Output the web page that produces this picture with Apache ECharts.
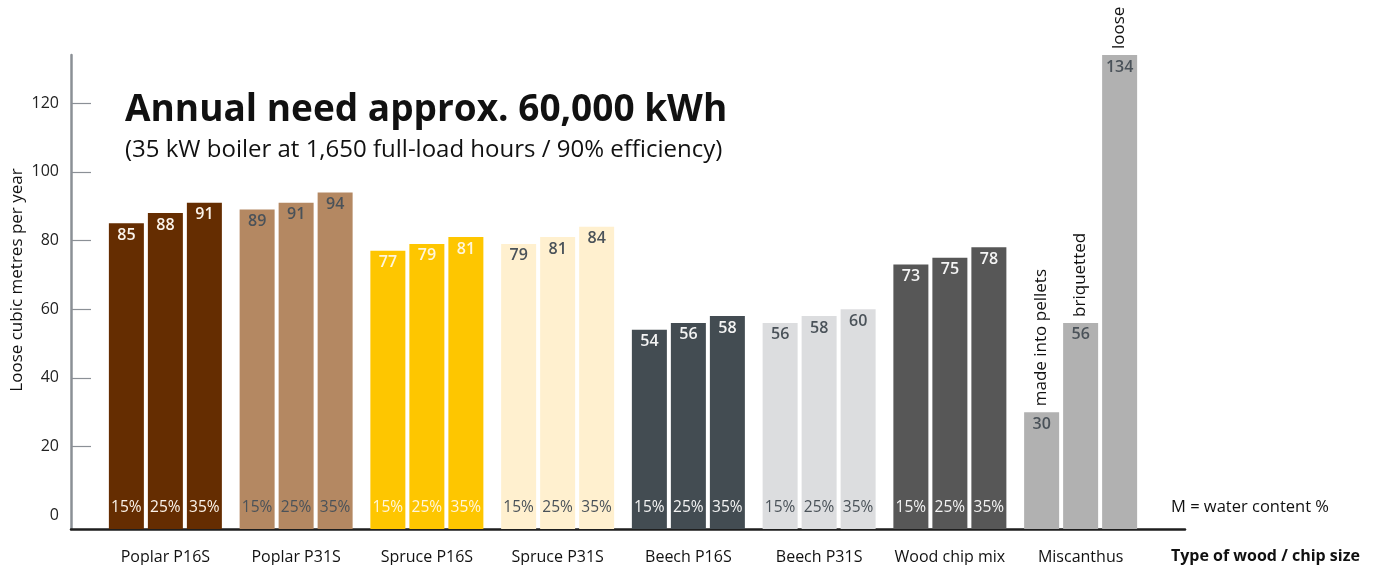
<!DOCTYPE html>
<html>
<head>
<meta charset="utf-8">
<script src="https://cdn.jsdelivr.net/npm/echarts@6/dist/echarts.min.js"></script>
<style>
html,body{margin:0;padding:0;background:#fff;}
#chart{width:1375px;height:565px;}
</style>
</head>
<body>
<div id="chart"></div>
<script>
const categories = ['Poplar P16S','Poplar P31S','Spruce P16S','Spruce P31S','Beech P16S','Beech P31S','Wood chip mix','Miscanthus'];
const waterContent = ['15%','25%','35%'];
const values15 = [85, 89, 77, 79, 54, 56, 73, 30];
const values25 = [88, 91, 79, 81, 56, 58, 75, 56];
const values35 = [91, 94, 81, 84, 58, 60, 78, 134];
const miscanthusForms = ['made into pellets','briquetted','loose'];
const yTickLabels = [0, 20, 40, 60, 80, 100, 120];
const yTickMarks = [20, 40, 60, 80, 100, 120];

const groupColors = ['#652d01','#b48862','#fec600','#fff0cf','#434c52','#dcdddf','#575757','#b1b1b1'];
const labelColors = ['#fbf3ea','#4a5259','#fff6dc','#4a5259','#f4f4f4','#4a5259','#f4f4f4','#4a5259'];
const Y_MIN = -4, Y_MAX = 134;
const FONT = '"Open Sans", Lato, sans-serif';

const seriesValues = [values15, values25, values35];
const barData = [];
seriesValues.forEach((arr, s) => arr.forEach((v, g) => barData.push([g, s, v])));

const chart = echarts.init(document.getElementById('chart'));
chart.setOption({
  backgroundColor: '#fff',
  animation: false,
  grid: [
    {left: 71, right: 190, top: 55, bottom: 36},
    {left: 100, right: 229, top: 55, bottom: 36}
  ],
  xAxis: [
    {gridIndex: 0, type: 'category', data: [''],
      axisLine: {onZero: false, lineStyle: {color: '#1e1e1e', width: 2.5}},
      axisTick: {show: false}, axisLabel: {show: false}},
    {gridIndex: 1, type: 'category', data: categories,
      axisLine: {show: false, onZero: false}, axisTick: {show: false},
      axisLabel: {interval: 0, hideOverlap: false, fontFamily: FONT, fontSize: 16, color: '#111', margin: 20}}
  ],
  yAxis: [
    {gridIndex: 0, type: 'value', min: Y_MIN, max: Y_MAX,
      axisLine: {show: true, lineStyle: {color: '#8b9096', width: 2.5}},
      axisTick: {show: true, inside: true, length: 20, customValues: yTickMarks, lineStyle: {color: '#8b9096', width: 1.2}},
      axisLabel: {customValues: yTickLabels, fontFamily: FONT, fontSize: 16, color: '#222', margin: 12},
      splitLine: {show: false}},
    {gridIndex: 1, type: 'value', min: Y_MIN, max: Y_MAX, show: false, splitLine: {show: false}}
  ],
  graphic: [
    {type: 'text', x: 125, y: 110, style: {x: 0, y: 0, text: 'Annual need approx. 60,000 kWh', font: 'bold 37px ' + FONT, fill: '#111', verticalAlign: 'middle'}},
    {type: 'text', x: 125, y: 150, style: {x: 0, y: 0, text: '(35 kW boiler at 1,650 full-load hours / 90% efficiency)', font: '24px ' + FONT, fill: '#111', verticalAlign: 'middle'}},
    {type: 'text', x: 17, y: 280, rotation: Math.PI / 2, style: {x: 0, y: 0, text: 'Loose cubic metres per year', font: '17px ' + FONT, fill: '#111', align: 'center', verticalAlign: 'middle'}},
    {type: 'text', x: 1171, y: 507, style: {x: 0, y: 0, text: 'M = water content %', font: '16.5px ' + FONT, fill: '#111', verticalAlign: 'middle'}},
    {type: 'text', x: 1171, y: 556, style: {x: 0, y: 0, text: 'Type of wood / chip size', font: 'bold 16px ' + FONT, fill: '#111', verticalAlign: 'middle'}}
  ],
  series: [{
    type: 'custom',
    xAxisIndex: 1, yAxisIndex: 1,
    clip: false,
    encode: {x: 0, y: 2},
    data: barData,
    renderItem: function (params, api) {
      const g = api.value(0), s = api.value(1), v = api.value(2);
      const top = api.coord([g, v]);
      const bottom = api.coord([g, Y_MIN]);
      const bw = 35, pitch = 39;
      const cx = top[0] + (s - 1) * pitch;
      const children = [
        {type: 'rect', shape: {x: cx - bw / 2, y: top[1], width: bw, height: bottom[1] - top[1]}, style: {fill: groupColors[g]}},
        {type: 'text', style: {x: cx, y: top[1] + 4, text: String(v), align: 'center', verticalAlign: 'top', font: '600 16px ' + FONT, fill: labelColors[g]}}
      ];
      if (g < categories.length - 1) {
        children.push({type: 'text', style: {x: cx, y: bottom[1] - 21, text: waterContent[s], align: 'center', verticalAlign: 'middle', font: '15.5px ' + FONT, fill: labelColors[g]}});
      } else {
        children.push({type: 'text', x: cx, y: top[1] - 6, rotation: Math.PI / 2, style: {x: 0, y: 0, text: miscanthusForms[s], align: 'left', verticalAlign: 'middle', font: '17px ' + FONT, fill: '#111'}});
      }
      return {type: 'group', children: children};
    }
  }]
});
</script>
</body>
</html>
